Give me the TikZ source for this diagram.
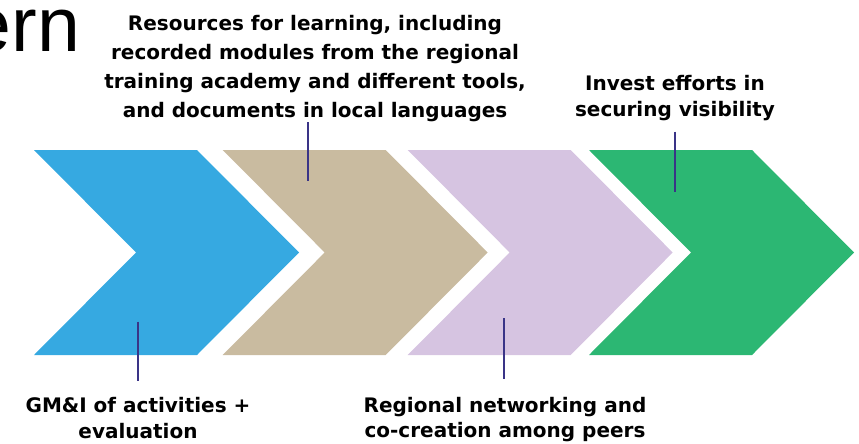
\documentclass[tikz,border=0pt]{standalone}
\usepackage{fontspec}
\setmainfont{DejaVu Sans}
\newfontfamily\titlefont{Liberation Sans}
\usetikzlibrary{positioning,calc}
\definecolor{chevblue}{RGB}{54,169,225}
\definecolor{chevtan}{RGB}{201,187,160}
\definecolor{chevlilac}{RGB}{214,196,225}
\definecolor{chevgreen}{RGB}{44,183,115}
\definecolor{leadline}{RGB}{58,52,135}
\tikzset{
  note/.style={align=center,inner sep=0pt,text=black},
  leader/.style={draw=leadline,line width=1.8pt}
}

\begin{document}
\begin{tikzpicture}[x=1pt,y=-1pt]
  \clip (0,0) rectangle (859,444);
  % chevrons
  \foreach \L/\col in {34/chevblue,222.7/chevtan,407.7/chevlilac,589/chevgreen}{
    \fill[\col] (\L,150) -- ++(163,0) -- ++(102,102.5) -- ++(-102,102.5)
      -- ++(-163,0) -- ++(102,-102.5) -- cycle;
  }
  \node[inner sep=0pt,anchor=base east,font=\titlefont\fontsize{77}{77}\selectfont] (ttl) at (80.3,52) {ern};
  % labels
  \node[note,anchor=north,font=\bfseries\fontsize{20}{29}\selectfont] (resLbl) at (315,15.5)
    {Resources for learning, including\\recorded modules from the regional\\training academy and different tools,\\and documents in local languages};
  \node[note,anchor=north,font=\bfseries\fontsize{20}{26}\selectfont] (visLbl) at (675,74.8)
    {Invest efforts in\\securing visibility};
  \node[note,anchor=north,font=\bfseries\fontsize{20}{26}\selectfont] (gmiLbl) at (138,396.8)
    {GM\&I of activities +\\evaluation};
  \node[note,anchor=north,font=\bfseries\fontsize{20}{25.5}\selectfont] (netLbl) at (505,396.8)
    {Regional networking and\\co-creation among peers};
  % leader lines
  \coordinate (resEnd) at (307.7,180.7);
  \coordinate (visEnd) at (675,191.7);
  \coordinate (gmiEnd) at (138,321.7);
  \coordinate (netEnd) at (504.3,318);
  \draw[leader] (resLbl.south -| resEnd) -- (resEnd);
  \draw[leader,shorten <=11pt] (visLbl.south -| visEnd) -- (visEnd);
  \draw[leader,shorten >=16pt] (gmiEnd) -- (gmiEnd |- gmiLbl.north);
  \draw[leader,shorten >=17.8pt] (netEnd) -- (netEnd |- netLbl.north);
\end{tikzpicture}
\end{document}
